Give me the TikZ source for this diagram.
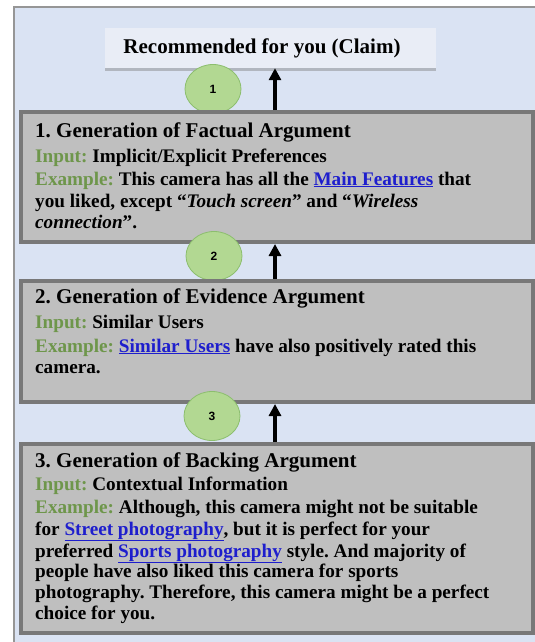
\documentclass[tikz,border=0pt]{standalone}
\usepackage{fontspec}
\setmainfont{Liberation Serif}
\usetikzlibrary{shapes.geometric,arrows.meta,shadows,calc}
\definecolor{bgblue}{RGB}{218,227,243}
\definecolor{panelline}{RGB}{150,150,150}
\definecolor{claimfill}{RGB}{233,237,246}
\definecolor{boxfill}{RGB}{191,191,191}
\definecolor{boxline}{RGB}{120,120,120}
\definecolor{circfill}{RGB}{178,216,146}
\definecolor{circline}{RGB}{140,190,110}
\definecolor{lblgreen}{RGB}{110,150,75}
\definecolor{linkblue}{RGB}{30,30,205}
\newcommand{\lbl}[1]{\textcolor{lblgreen}{#1}}
\newcommand{\lnk}[1]{\textcolor{linkblue}{\underline{#1}}}
\frenchspacing
\tikzset{
  argbox/.style={draw=boxline, line width=4pt, fill=boxfill, anchor=north west, minimum width=512pt, inner sep=0pt},
  numcirc/.style={ellipse, draw=circline, line width=0.8pt, fill=circfill, minimum width=56pt, minimum height=49pt, inner sep=0pt, font=\fontspec{Liberation Sans}\bfseries\fontsize{12}{12}\selectfont},
  arr/.style={line width=3.2pt, -{Triangle[width=12pt,length=12pt]}},
  ttl/.style={anchor=base west, inner sep=0pt, font=\bfseries\fontsize{21}{23}\selectfont},
  txt/.style={anchor=base west, inner sep=0pt, font=\bfseries\fontsize{19.2}{21}\selectfont},
}
\begin{document}
\begin{tikzpicture}[x=1pt,y=-1pt]
\useasboundingbox (0,0) rectangle (535,642);
% panel
\fill[bgblue] (14,7) rectangle (535,642);
\draw[panelline, line width=1.2pt] (14,642) -- (14,7) -- (535,7);
% claim
\node[draw=none, fill=claimfill, minimum width=331pt, minimum height=40pt, inner sep=0pt,
  drop shadow={shadow xshift=0pt, shadow yshift=-2.5pt, opacity=0.45},
  font=\bfseries\fontsize{21}{23}\selectfont] (claim) at (270,48) {Recommended for you (Claim)\hspace*{16pt}};
% circle 1
\node[numcirc] (c1) at (213,89) {1};
% box 1
\node[argbox, minimum height=130pt] (box1) at (19,110) {};
\draw[arr] (box1.north) ++(-2,0) coordinate (a1s) -- (a1s |- claim.south);
\node[ttl] (b1t) at (35,137) {1. Generation of Factual Argument};
\node[txt] (b1i) at (35,162) {\lbl{Input:} Implicit/Explicit Preferences};
\node[txt] (b1e) at (35,185) {\lbl{Example:} This camera has all the \lnk{Main Features} that};
\node[txt] (b1f) at (35,207) {you liked, except “\textit{Touch screen}” and “\textit{Wireless}};
\node[txt] (b1g) at (35,228) {\textit{connection}”.};
% circle 2
\node[numcirc] (c2) at (214,256) {2};
% box 2
\node[argbox, minimum height=121pt] (box2) at (19,279) {};
\draw[arr] (box2.north) ++(-2,0) coordinate (a2s) -- (a2s |- box1.south);
\node[ttl] (b2t) at (35,303) {2. Generation of Evidence Argument};
\node[txt] (b2i) at (35,328) {\lbl{Input:} Similar Users};
\node[txt] (b2e) at (35,352) {\lbl{Example:} \lnk{Similar Users} have also positively rated this};
\node[txt] (b2f) at (35,373) {camera.};
% circle 3
\node[numcirc] (c3) at (212,416) {3};
% box 3
\node[argbox, minimum height=189pt] (box3) at (19,442) {};
\draw[arr] (box3.north) ++(-2,0) coordinate (a3s) -- (a3s |- box2.south);
\node[ttl] (b3t) at (35,467) {3. Generation of Backing Argument};
\node[txt] (b3i) at (35,490) {\lbl{Input:} Contextual Information};
\node[txt] (b3e) at (35,513) {\lbl{Example:} Although, this camera might not be suitable};
\node[txt] (b3f) at (35,535) {for \lnk{Street photography}, but it is perfect for your};
\node[txt] (b3g) at (35,557) {preferred \lnk{Sports photography} style. And majority of};
\node[txt] (b3h) at (35,577) {people have also liked this camera for sports};
\node[txt] (b3k) at (35,598) {photography. Therefore, this camera might be a perfect};
\node[txt] (b3l) at (35,619) {choice for you.};
\end{tikzpicture}
\end{document}
